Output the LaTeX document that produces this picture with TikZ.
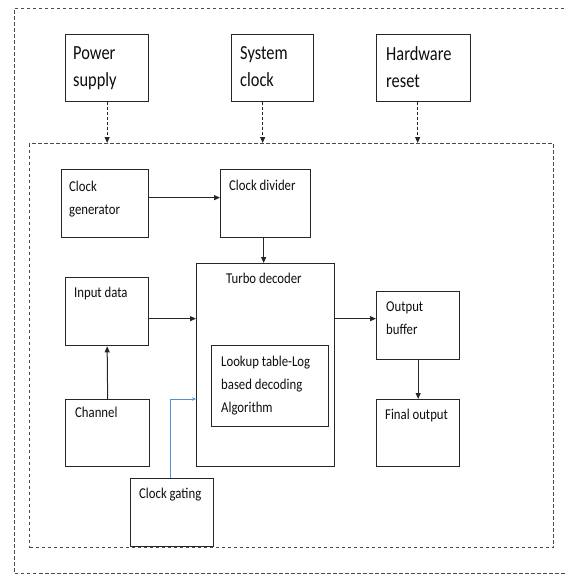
\documentclass[tikz,border=0pt]{standalone}
\usepackage{fontspec}
\setmainfont{Carlito}
\usetikzlibrary{arrows.meta}
\newcommand{\sqA}[1]{\scalebox{0.82}[1]{#1}}
\newcommand{\sqB}[1]{\scalebox{0.85}[1]{#1}}
\definecolor{gateblue}{HTML}{5B8FD4}
\begin{document}
\begin{tikzpicture}[x=1pt,y=-1pt,
  blk/.style={draw=black!85, line width=1.3pt, inner sep=0pt, anchor=north west},
  lbl/.style={anchor=north west, inner sep=0pt, align=left, text=black!95},
  big/.style={lbl, font=\fontsize{20}{27.5}\selectfont},
  sml/.style={lbl, font=\fontsize{15}{23}\selectfont},
  arr/.style={-{Triangle[length=6pt,width=5pt]}, line width=1pt, draw=black!85},
  darr/.style={arr, dash pattern=on 3pt off 2pt},
  frame/.style={draw=black!70, line width=1pt, dash pattern=on 3.5pt off 2.5pt},
  barr/.style={-{Stealth[length=4pt,width=3.5pt]}, line width=0.8pt, draw=gateblue}]
\useasboundingbox (0,0) rectangle (565,574);
% outer frame (right side runs off the picture)
\draw[frame] (570,8) -- (14,8) -- (14,573) -- (570,573);
% inner frame
\node[frame, inner sep=0pt, anchor=north west, minimum width=524pt, minimum height=404pt] (inner) at (29,143) {};
% top boxes
\node[blk, minimum width=83pt, minimum height=67pt] (ps) at (65,34) {};
\node[big] (psT) at (73,46) {\sqA{Power}\\\sqA{supply}};
\node[blk, minimum width=82pt, minimum height=67pt] (sc) at (231,34) {};
\node[big] (scT) at (240,46) {\sqA{System}\\\sqA{clock}};
\node[blk, minimum width=94pt, minimum height=67pt] (hr) at (376,34) {};
\node[big] (hrT) at (386,46) {\sqA{Hardware}\\\sqA{reset}};
% inner boxes
\node[blk, minimum width=87pt, minimum height=68pt] (cg) at (61,169) {};
\node[sml] (cgT) at (69,181) {\sqB{Clock}\\\sqB{generator}};
\node[blk, minimum width=90pt, minimum height=68pt] (cd) at (220,169) {};
\node[sml] (cdT) at (229,180) {\sqB{Clock divider}};
\node[blk, minimum width=138pt, minimum height=203pt] (td) at (196,263) {};
\node[sml] (tdT) at (226,273) {\sqB{Turbo decoder}};
\node[blk, minimum width=117pt, minimum height=81pt] (lt) at (211,345) {};
\node[sml] (ltT) at (221,356) {\sqB{Lookup table-Log}\\\sqB{based decoding}\\\sqB{Algorithm}};
\node[blk, minimum width=83pt, minimum height=68pt] (in) at (65,277) {};
\node[sml] (inT) at (74,287) {\sqB{Input data}};
\node[blk, minimum width=84pt, minimum height=67pt] (ch) at (65,399) {};
\node[sml] (chT) at (75,407) {\sqB{Channel}};
\node[blk, minimum width=83pt, minimum height=68pt] (ob) at (376,291) {};
\node[sml] (obT) at (386,302) {\sqB{Output}\\\sqB{buffer}};
\node[blk, minimum width=83pt, minimum height=67pt] (fo) at (376,399) {};
\node[sml] (foT) at (385,409) {\sqB{Final output}};
\node[blk, minimum width=83pt, minimum height=68pt] (cgt) at (130,478) {};
\node[sml] (cgtT) at (139,488) {\sqB{Clock gating}};
% dashed arrows from top boxes
\path (ps.south) coordinate (psd);
\path ([xshift=-10pt]sc.south) coordinate (scd);
\path ([xshift=-6pt]hr.south) coordinate (hrd);
\draw[darr] (psd) -- (psd |- inner.north);
\draw[darr] (scd) -- (scd |- inner.north);
\draw[darr] (hrd) -- (hrd |- inner.north);
% solid arrows
\path ([yshift=6pt]cg.east) coordinate (cgout);
\draw[arr] (cgout) -- (cgout -| cd.west);
\path ([xshift=-2pt]cd.south) coordinate (cdout);
\draw[arr] (cdout) -- (cdout |- td.north);
\path ([yshift=-7pt]in.east) coordinate (inout);
\draw[arr] (inout) -- (inout -| td.west);
\draw[arr] (ch.north) -- (in.south);
\path ([yshift=7pt]ob.west) coordinate (obin);
\draw[arr] (obin -| td.east) -- (obin);
\draw[arr] (ob.south) -- (fo.north);
% clock gating (blue)
\path ([xshift=-2pt]cgt.north) coordinate (gtop);
\draw[barr] (gtop) |- (td.west |- ch.north);
\end{tikzpicture}
\end{document}
